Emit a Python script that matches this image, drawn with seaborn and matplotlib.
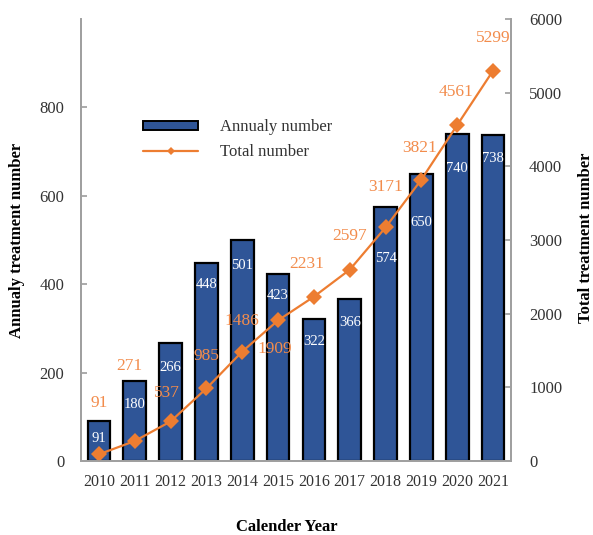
import numpy as np
import pandas as pd
import matplotlib
matplotlib.use("Agg")
import matplotlib.pyplot as plt
import seaborn as sns
from matplotlib.patches import Patch
from matplotlib.lines import Line2D

# Treatment counts per calendar year
years = ["2010", "2011", "2012", "2013", "2014", "2015",
         "2016", "2017", "2018", "2019", "2020", "2021"]
annual = [91, 180, 266, 448, 501, 423, 322, 366, 574, 650, 740, 738]
total = [91, 271, 537, 985, 1486, 1909, 2231, 2597, 3171, 3821, 4561, 5299]

# label placement (pixels): cumulative labels relative to marker, annual labels below bar top
total_label_offsets = [(0, 51), (-5, 75), (-4, 28), (0, 32), (0, 31), (-3, -29),
                       (-7, 33), (0, 34), (0, 40), (-2, 32), (-1, 33), (0, 33)]
annual_label_drop = [18, 23, 24, 22, 26, 21, 23, 23, 51, 49, 35, 24]

sns.set_theme(style="white")
plt.rcParams["font.family"] = ["Liberation Serif", "DejaVu Serif"]

BLUE = "#2F5597"
ORANGE = "#ED7D31"
ORANGE_TXT = "#F28C4C"
GRAY = "#A0A0A0"
TXT = "#333333"

df = pd.DataFrame({"year": years, "annual": annual, "total": total})
df["pos"] = np.arange(len(df))

fig = plt.figure(figsize=(5.93, 5.35), dpi=100)
ax = fig.add_axes([81 / 593, 74 / 535, 430 / 593, 442 / 535])

sns.barplot(data=df, x="year", y="annual", color=BLUE, width=0.63,
            edgecolor="black", linewidth=1.6, saturation=1, ax=ax)
ax.set_xlim(-0.5, len(years) - 0.5)
ax.set_ylim(0, 1000)
ax.set_yticks([0, 200, 400, 600, 800])

for i, (v, drop) in enumerate(zip(annual, annual_label_drop)):
    ax.annotate(str(v), xy=(i, v), xytext=(0, -drop), textcoords="offset pixels",
                ha="center", va="center", color="white", fontsize=10.5)

ax2 = ax.twinx()
sns.lineplot(data=df, x="pos", y="total", color=ORANGE, linewidth=1.6,
             marker="D", markersize=8.5, markeredgewidth=0, ax=ax2)
ax2.set_ylim(0, 6000)
ax2.set_yticks(range(0, 6001, 1000))
ax2.set_xlim(-0.5, len(years) - 0.5)

for i, (v, (dx, dy)) in enumerate(zip(total, total_label_offsets)):
    ax2.annotate(str(v), xy=(i, v), xytext=(dx, dy), textcoords="offset pixels",
                 ha="center", va="center", color=ORANGE_TXT, fontsize=12.5)

for a in (ax, ax2):
    a.spines["top"].set_visible(False)
    for s in ("left", "right", "bottom"):
        a.spines[s].set_color(GRAY)
        a.spines[s].set_linewidth(1.3)
    a.grid(False)

ax.tick_params(axis="y", direction="in", length=4, color=GRAY, pad=12,
               labelsize=12, labelcolor=TXT, left=True)
ax.tick_params(axis="x", length=0, pad=9, labelsize=11.5, labelcolor=TXT)
ax2.tick_params(axis="y", direction="in", length=4, color=GRAY, pad=13,
                labelsize=12, labelcolor=TXT, right=True)

ax.set_xlabel("Calender Year", fontsize=12, fontweight="bold", color="black")
ax.xaxis.set_label_coords(0.479, -0.131)
ax.set_ylabel("Annualy treatment number", fontsize=12, fontweight="bold", color="black")
ax.yaxis.set_label_coords(-0.13, 0.5)
ax2.set_ylabel("Total treatment number", fontsize=12, fontweight="bold", color="black")
ax2.yaxis.set_label_coords(1.155, 0.505)

handles = [
    Patch(facecolor=BLUE, edgecolor="black", linewidth=1.4, label="Annualy number"),
    Line2D([0], [0], color=ORANGE, linewidth=1.6, marker="D", markersize=4,
           markeredgewidth=0, label="Total number"),
]
leg = ax2.legend(handles=handles, loc="upper left", bbox_to_anchor=(128 / 593, 1 - 104 / 535),
                 bbox_transform=fig.transFigure, frameon=False, fontsize=12,
                 handlelength=3.3, handleheight=0.45, handletextpad=1.3, labelspacing=0.55)
for t in leg.get_texts():
    t.set_color(TXT)

fig.savefig("out.png", dpi=100)
